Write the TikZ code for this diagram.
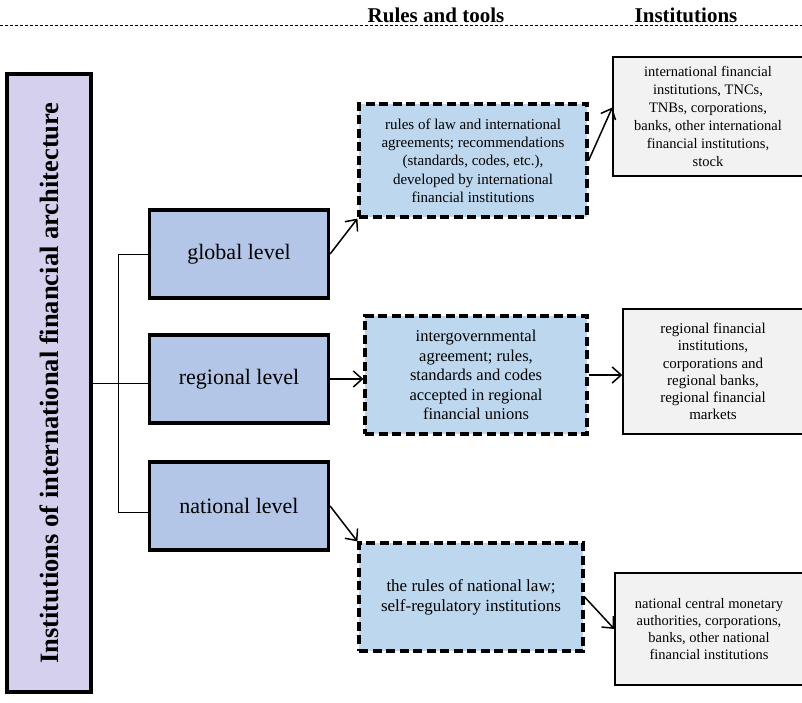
\documentclass[tikz,border=0pt]{standalone}
\usepackage{fontspec}
\setmainfont{Liberation Serif}
\usetikzlibrary{arrows.meta}
\definecolor{lav}{RGB}{213,208,238}
\definecolor{lvl}{RGB}{180,198,231}
\definecolor{rul}{RGB}{189,215,238}
\definecolor{ins}{RGB}{242,242,242}
\begin{document}
\begin{tikzpicture}[x=1pt,y=-1pt,
 lvlbox/.style={draw, line width=3.2pt, fill=lvl, minimum width=179pt, minimum height=88pt, inner sep=0pt, font=\fontsize{22}{26}\selectfont},
 rulebox/.style={draw, line width=3.2pt, dash pattern=on 9pt off 4.5pt, fill=rul, inner sep=0pt, align=center},
 insbox/.style={draw, line width=1.4pt, fill=ins, inner sep=0pt, align=center, font=\fontsize{14.5}{18}\selectfont},
 conn/.style={line width=1.5pt, -{Straight Barb[length=9pt,width=16pt]}},
 brk/.style={line width=1pt},
 hdr/.style={anchor=base, font=\bfseries\fontsize{21}{24}\selectfont, inner sep=0pt}]
\useasboundingbox (0,0) rectangle (802,703);
\draw[dash pattern=on 3pt off 2pt, line width=1pt] (0,26) -- (802,26);
\node[hdr] (h1) at (436,23) {Rules and tools};
\node[hdr] (h2) at (686,23) {Institutions};

% left box
\node[draw, line width=3.2pt, fill=lav, minimum width=84pt, minimum height=618pt, inner sep=0pt] (L) at (49,383) {};
\node[rotate=90, font=\bfseries\fontsize{26.5}{30}\selectfont, inner sep=0pt] (Lt) at (L.center) {Institutions of international financial architecture};

% level boxes
\node[lvlbox] (g) at (239,254) {global level};
\node[lvlbox] (rg) at (239,379) {regional level};
\node[lvlbox] (n) at (239,506) {national level};

% rules boxes
\node[rulebox, minimum width=228pt, minimum height=113pt, font=\fontsize{15}{18.3}\selectfont] (r1) at (473,160.5) {rules of law and international\\agreements; recommendations\\(standards, codes, etc.),\\developed by international\\financial institutions};
\node[rulebox, minimum width=222pt, minimum height=118pt, font=\fontsize{16.5}{19.6}\selectfont] (r2) at (476,375) {intergovernmental\\agreement; rules,\\standards and codes\\accepted in regional\\financial unions};
\node[rulebox, minimum width=224pt, minimum height=108pt, font=\fontsize{17}{20}\selectfont] (r3) at (471,597) {the rules of national law;\\self-regulatory institutions};

% institution boxes
\node[insbox, minimum width=190pt, minimum height=119pt] (i1) at (708,116.5) {international financial\\institutions, TNCs,\\TNBs, corporations,\\banks, other international\\financial institutions,\\stock};
\node[insbox, minimum width=180pt, minimum height=125pt, font=\fontsize{15}{17.3}\selectfont] (i2) at (713,371.5) {regional financial\\institutions,\\corporations and\\regional banks,\\regional financial\\markets};
\node[insbox, minimum width=188pt, minimum height=112pt, font=\fontsize{14.5}{16.7}\selectfont] (i3) at (709,629) {national central monetary\\authorities, corporations,\\banks, other national\\financial institutions};

% bracket
\coordinate (mid) at (118,383);
\coordinate (bot) at (118,512);
\draw[brk] (L.east |- mid) -- (mid -| rg.west);
\draw[brk] (g.west) -- (g.west -| mid) -- (bot) -- (bot -| n.west);

% connectors
\draw[conn] (g.east) -- (r1.south west);
\draw[conn] (rg.east) -- (rg.east -| r2.west);
\draw[conn] (n.east) -- (r3.north west);
\draw[conn] (r1.east) -- ([yshift=9pt]i1.west);
\draw[conn] (r2.east) -- (r2.east -| i2.west);
\draw[conn] (r3.east) -- (i3.west);
\end{tikzpicture}
\end{document}
